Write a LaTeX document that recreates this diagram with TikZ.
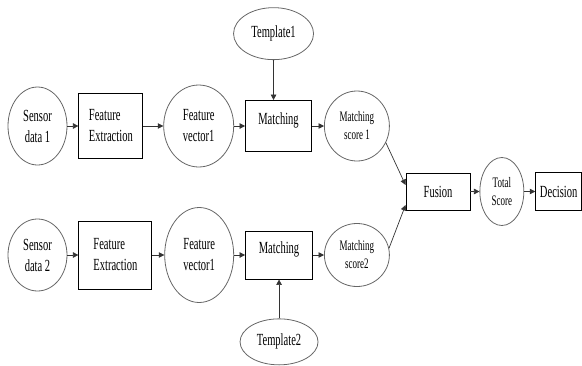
\documentclass[tikz,border=0pt]{standalone}
\usepackage{fontspec}
\setmainfont{Liberation Serif}[FakeStretch=0.62]
\usetikzlibrary{positioning,arrows.meta,shapes.geometric}

\begin{document}
\begin{tikzpicture}[
  x=1pt, y=1pt,
  font=\fontsize{17}{21}\selectfont,
  every node/.style={align=center},
  proc/.style ={rectangle, draw=black, line width=0.9pt, inner sep=2pt, align=left},
  mbox/.style ={proc, text height=11pt, text depth=15pt},
  data/.style ={ellipse, draw=black!60, line width=0.8pt, inner sep=1pt},
  score/.style={data, font=\fontsize{14.5}{18}\selectfont},
  arrow/.style={-{Triangle[length=5.5pt,width=5.5pt]}, line width=0.7pt, draw=black!80},
]
\useasboundingbox (0,0) rectangle (582,-365);

% -------- sensor 1 --------------------------------------------------------
\node[data, minimum width=59pt, minimum height=78pt] (sd1) at (37.5,-126) {Sensor\\data 1};
\node[proc, minimum width=64pt, minimum height=65pt, right=11pt of sd1] (fe1) {Feature\\Extraction};
\node[data, minimum width=70pt, minimum height=82pt, right=20pt of fe1] (fv1) {Feature\\vector1};
\node[mbox, minimum width=66pt, minimum height=51pt, right=11pt of fv1] (m1) {Matching};
\node[score, minimum width=65pt, minimum height=70pt, right=12pt of m1] (ms1) {Matching\\score 1};
\node[data, minimum width=80pt, minimum height=52pt, above=40pt of m1, xshift=-5pt] (t1) {Template1};

% -------- sensor 2 --------------------------------------------------------
\node[data, minimum width=59pt, minimum height=72pt] (sd2) at (37.5,-255) {Sensor\\data 2};
\node[proc, minimum width=73pt, minimum height=68pt, right=11pt of sd2] (fe2) {Feature\\Extraction};
\node[data, minimum width=69pt, minimum height=95pt, right=12pt of fe2] (fv2) {Feature\\vector1};
\node[mbox, minimum width=67pt, minimum height=48pt, right=11pt of fv2] (m2) {Matching};
\node[score, minimum width=65pt, minimum height=63pt, right=11pt of m2] (ms2) {Matching\\score2};
\node[data, minimum width=78pt, minimum height=46pt, below=39pt of m2] (t2) {Template2};

% -------- fusion ----------------------------------------------------------
\node[proc, minimum width=64pt, minimum height=37pt] (fus) at (438,-191.5) {Fusion};
\node[score, minimum width=44pt, minimum height=68pt, right=9pt of fus] (ts) {Total\\Score};
\node[proc, minimum width=46pt, minimum height=38pt, right=11pt of ts] (dec) {Decision};

% -------- arrows ----------------------------------------------------------
\foreach \a/\b in {sd1/fe1, fe1/fv1, fv1/m1, m1/ms1,
                   sd2/fe2, fe2/fv2, fv2/m2, m2/ms2,
                   fus/ts, ts/dec}
  \draw[arrow] (\a) -- (\b);

\draw[arrow] (t1) -- (t1 |- m1.north);
\draw[arrow] (t2) -- (t2 |- m2.south);

\draw[arrow] (ms1.-30) -- ([yshift=6.5pt]fus.west);
\draw[arrow] (ms2.12) -- ([yshift=-13.5pt]fus.west);

\end{tikzpicture}
\end{document}
